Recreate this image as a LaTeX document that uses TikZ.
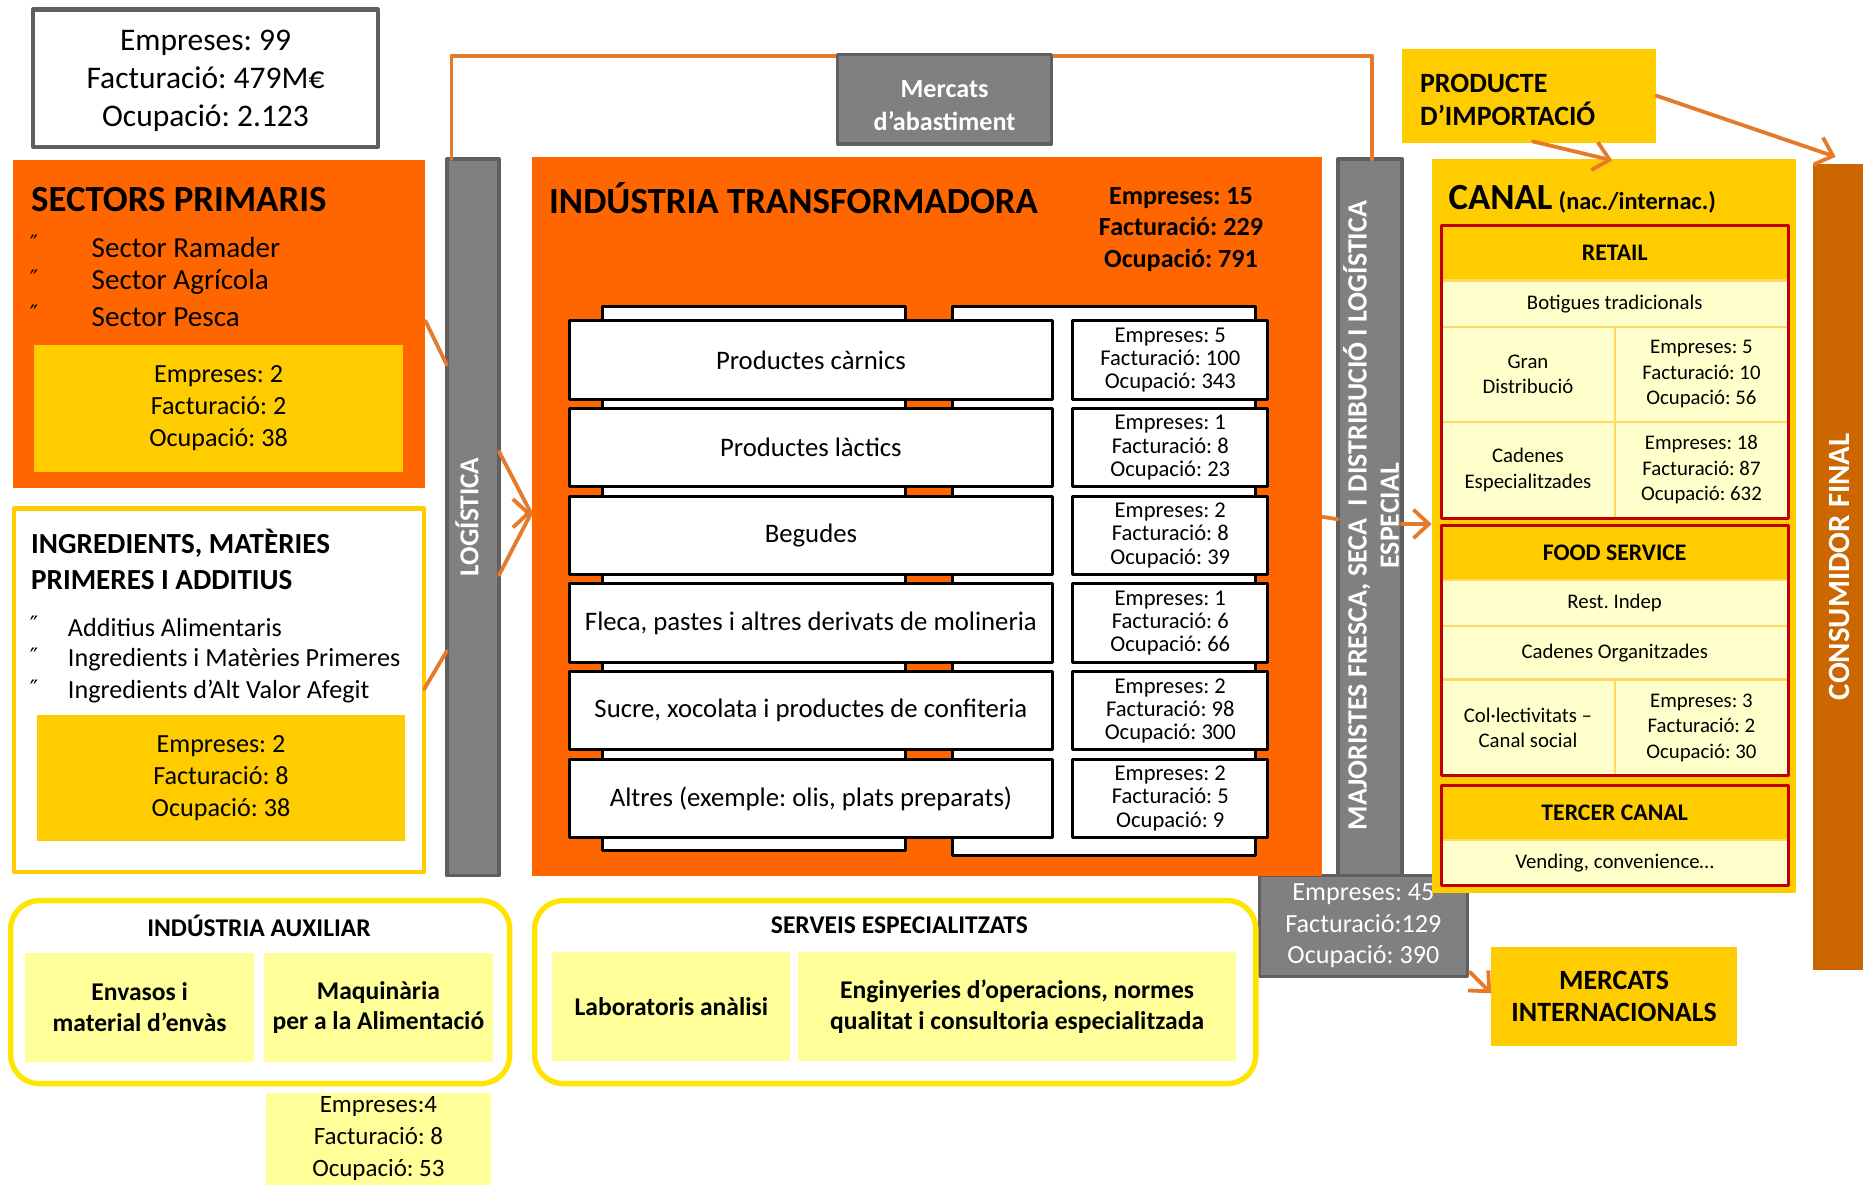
\documentclass[tikz,border=0pt]{standalone}
\usepackage{fontspec}
\setmainfont{Carlito}
\newfontfamily\dejavu{DejaVu Sans}
\usetikzlibrary{arrows.meta,calc}
\definecolor{taronja}{RGB}{255,102,0}
\definecolor{groc}{RGB}{255,204,0}
\definecolor{grocclar}{RGB}{255,255,204}
\definecolor{grocpal}{RGB}{255,255,153}
\definecolor{grocviu}{RGB}{255,228,0}
\definecolor{gris}{RGB}{128,128,128}
\definecolor{grisfosc}{RGB}{95,95,95}
\definecolor{fletxa}{RGB}{228,122,42}
\definecolor{consum}{RGB}{204,102,0}
\definecolor{vermell}{RGB}{192,0,0}
\definecolor{separa}{RGB}{255,217,102}
\newcommand\mida[2]{\fontsize{#1}{#2}\selectfont}
\frenchspacing
\tikzset{
  caixa/.style={anchor=north west,outer sep=0pt},
  barra/.style={caixa,fill=gris,draw=grisfosc,line width=3},
  cel/.style={caixa,fill=grocclar,draw=separa,line width=2,align=center,font=\mida{17.5}{21.5}},
  capcel/.style={caixa,fill=groc,align=center,font=\bfseries\mida{20}{24}},
  marc/.style={caixa,draw=vermell,line width=2.5},
  conn/.style={draw=fletxa,line width=3.2,line cap=round},
  vinyeta/.style={anchor=west,font=\dejavu\mida{19}{22}},
}
\begin{document}
\begin{tikzpicture}[x=1pt,y=-1pt,inner sep=0pt,line join=round,>={Straight Barb[length=13pt,width=24pt]}]
\useasboundingbox (0,0) rectangle (1568,997);
% primers i ingredients
\node[caixa,fill=white,draw=grisfosc,line width=3.5,minimum width=290,minimum height=116] (total) at (28,8) {};
\node[align=center,font=\mida{26.5}{32}] (totaltxt) at (173,68) {Empreses: 99\\Facturació: 479M€\\Ocupació: 2.123};
\node[caixa,fill=taronja,minimum width=347,minimum height=276] (prim) at (11,135) {};
\node[anchor=west,font=\bfseries\mida{31}{37}] (primtit) at (26,168) {SECTORS PRIMARIS};
\foreach \t [count=\i from 0] in {Sector Ramader,Sector Agrícola,Sector Pesca}{
  \node[vinyeta] (primb\i) at (25,205+29.5*\i) {″};
  \node[anchor=west,font=\mida{24.5}{29}] (sect\i) at (77,208+29.5*\i) {\t};
}
\node[caixa,fill=groc,minimum width=310,minimum height=107,font=\mida{22}{27},align=center] (primst) at (29,290) {Empreses: 2\\Facturació: 2\\Ocupació: 38};
\node[caixa,fill=white,draw=groc,line width=3.5,minimum width=345,minimum height=306] (ingr) at (12,428) {};
\node[anchor=west,align=left,font=\bfseries\mida{24.5}{30}] (ingrtit) at (26,471) {INGREDIENTS, MATÈRIES\\PRIMERES I ADDITIUS};
\foreach \t [count=\i from 0] in {Additius Alimentaris,Ingredients i Matèries Primeres,Ingredients d’Alt Valor Afegit}{
  \node[vinyeta] (ingrb\i) at (25,525+27*\i) {″};
  \node[anchor=west,font=\mida{22}{27}] (ingr\i) at (57,528+27*\i) {\t};
}
\node[caixa,fill=groc,minimum width=310,minimum height=106,font=\mida{22}{27},align=center] (ingrst) at (31,602) {Empreses: 2\\Facturació: 8\\Ocupació: 38};
% barres grises
\node[barra,minimum width=44,minimum height=603] (logi) at (376,134) {};
\node[rotate=90,text=white,font=\bfseries\mida{23}{27}] (logitxt) at (393,435) {LOGÍSTICA};
\node[barra,minimum width=54,minimum height=603] (maj) at (1126,134) {};
\node[rotate=90,text=white,align=center,font=\bfseries\mida{23.5}{27}] (majtxt) at (1154,434) {MAJORISTES FRESCA, SECA \ I DISTRIBUCIÓ I LOGÍSTICA\\ESPECIAL};
\draw[conn] ($(logi.north west)+(4,0)$) -- ++(0,-87) -| ($(maj.north west)+(29,0)$);
\node[barra,minimum width=180,minimum height=75] (merc) at (705,46) {};
\node[text=white,align=center,font=\bfseries\mida{22}{28}] (merctxt) at (795,89) {Mercats\\d’abastiment};
\node[barra,minimum width=175,minimum height=85,text=white,align=center,font=\mida{22}{26.5}] (majst) at (1060,737) {Empreses: 45\\Facturació:129\\Ocupació: 390};
% industria transformadora
\node[caixa,fill=taronja,minimum width=665,minimum height=605] (indus) at (448,132) {};
\node[anchor=west,font=\bfseries\mida{31}{37}] (industit) at (462,167) {INDÚSTRIA TRANSFORMADORA};
\node[align=center,font=\bfseries\mida{22}{26.5}] (indusst) at (994,193) {Empreses: 15\\Facturació: 229\\Ocupació: 791};
\node[caixa,fill=white,draw=black,line width=2.5,minimum width=255,minimum height=458] (fonsA) at (507,258) {};
\node[caixa,fill=white,draw=black,line width=2.5,minimum width=255,minimum height=462] (fonsB) at (802,258) {};
\foreach \lbl/\e/\f/\o [count=\i from 0] in {{Productes càrnics}/5/100/343,{Productes làctics}/1/8/23,Begudes/2/8/39,{Fleca, pastes i altres derivats de molineria}/1/6/66,{Sucre, xocolata i productes de confiteria}/2/98/300,{Altres (exemple: olis, plats preparats)}/2/5/9}{
  \pgfmathsetmacro\yy{270+73.8*\i}
  \node[caixa,fill=white,draw=black,line width=2.5,minimum width=407,minimum height=66,font=\mida{22.5}{27}] (fila\i) at (479,\yy) {\lbl};
  \node[caixa,fill=white,draw=black,line width=2.5,minimum width=164,minimum height=66,align=center,font=\mida{19}{19.5}] (xif\i) at (903,\yy) {Empreses: \e\\Facturació: \f\\Ocupació: \o};
}
% canal
\node[caixa,fill=groc,minimum width=214,minimum height=79] (prod) at (1180,41) {};
\node[anchor=west,align=left,font=\bfseries\mida{23.5}{28}] (prodtxt) at (1195,84) {PRODUCTE\\D’IMPORTACIÓ};
\node[caixa,fill=groc,minimum width=307,minimum height=618] (canal) at (1205,134) {};
\node[anchor=west] (canaltit) at (1219,168) {\bfseries\mida{31}{37}CANAL\,{\mida{20.5}{25}(nac./internac.)}};
\node[capcel,minimum width=292,minimum height=46] (retail) at (1213,190) {RETAIL};
\node[cel,minimum width=292,minimum height=39] (botig) at (1213,236) {Botigues tradicionals};
\node[cel,minimum width=146,minimum height=80] (gran) at (1213,275) {Gran\\Distribució};
\node[cel,minimum width=146,minimum height=80] (granst) at (1359,275) {Empreses: 5\\Facturació: 10\\Ocupació: 56};
\node[cel,minimum width=146,minimum height=81] (cadesp) at (1213,355) {Cadenes\\Especialitzades};
\node[cel,minimum width=146,minimum height=81] (cadespst) at (1359,355) {Empreses: 18\\Facturació: 87\\Ocupació: 632};
\node[marc,minimum width=292,minimum height=246] (retailm) at (1213,190) {};
\node[capcel,minimum width=292,minimum height=46] (food) at (1213,442) {FOOD SERVICE};
\node[cel,minimum width=292,minimum height=39] (rest) at (1213,488) {Rest. Indep};
\node[cel,minimum width=292,minimum height=45] (cadorg) at (1213,527) {Cadenes Organitzades};
\node[cel,minimum width=146,minimum height=81] (colect) at (1213,572) {Col·lectivitats –\\Canal social};
\node[cel,minimum width=146,minimum height=81] (colectst) at (1359,572) {Empreses: 3\\Facturació: 2\\Ocupació: 30};
\node[marc,minimum width=292,minimum height=211] (foodm) at (1213,442) {};
\node[capcel,minimum width=292,minimum height=46] (tercer) at (1213,661) {TERCER CANAL};
\node[cel,minimum width=292,minimum height=38] (vend) at (1213,707) {Vending, convenience…};
\node[marc,minimum width=292,minimum height=84] (tercerm) at (1213,661) {};
\node[caixa,fill=consum,minimum width=42,minimum height=678] (cons) at (1526,138) {};
\node[rotate=90,text=white,font=\bfseries\mida{26}{31}] (constxt) at (1548,477) {CONSUMIDOR FINAL};
\node[caixa,fill=groc,minimum width=207,minimum height=83,align=center,font=\bfseries\mida{23.5}{27}] (mercint) at (1255,797) {MERCATS\\INTERNACIONALS};
% auxiliars
\node[caixa,fill=white,draw=grocviu,line width=4.5,rounded corners=24,minimum width=420,minimum height=154] (aux) at (9,758) {};
\node[font=\bfseries\mida{21.5}{26}] (auxtit) at (218,779) {INDÚSTRIA AUXILIAR};
\node[caixa,fill=grocpal,minimum width=193,minimum height=92,align=center,font=\bfseries\mida{21.5}{26}] (envas) at (21,802) {Envasos i\\material d’envàs};
\node[caixa,fill=grocpal,minimum width=193,minimum height=92,align=center,font=\bfseries\mida{21.5}{26}] (maqui) at (222,802) {Maquinària\\per a la Alimentació};
\node[caixa,fill=grocpal,minimum width=189,minimum height=77,align=center,font=\mida{21}{27}] (auxst) at (224,920) {Empreses:4\\Facturació: 8\\Ocupació: 53};
\node[caixa,fill=white,draw=grocviu,line width=4.5,rounded corners=24,minimum width=607,minimum height=154] (serv) at (450,758) {};
\node[font=\bfseries\mida{21.5}{26}] (servtit) at (757,779) {SERVEIS ESPECIALITZATS};
\node[caixa,fill=grocpal,minimum width=200,minimum height=92,align=center,font=\bfseries\mida{21.5}{26}] (labo) at (465,801) {Laboratoris anàlisi};
\node[caixa,fill=grocpal,minimum width=368,minimum height=92,align=center,font=\bfseries\mida{21.5}{26}] (engi) at (672,801) {Enginyeries d’operacions, normes\\qualitat i consultoria especialitzada};
% connectors
\coordinate (puntaL) at ($(indus.north west)+(-1,300)$);
\draw[conn] ($(prim.north east)+(0,135)$) -- ($(logi.north west)+(0,173)$);
\draw[conn] ($(ingr.north east)+(0,152)$) -- ($(logi.north west)+(0,414)$);
\draw[conn] ($(logi.north east)+(0,246)$) -- (puntaL);
\draw[conn] ($(logi.north east)+(0,350)$) -- (puntaL);
\draw[conn,->] ($(puntaL)+(-4,0)$) -- (puntaL);
\draw[conn] ($(indus.north east)+(0,303)$) -- ($(maj.north west)+(0,303)$);
\draw[conn,->] ($(maj.north east)+(0,307)$) -- ($(canal.north west)+(0,307)$);
\draw[conn,->] ($(majst.south east)+(2,-4)$) -- ($(mercint.north west)+(0,39)$);
\draw[conn,->] ($(prod.south)+(3,-1)$) -- ($(canal.north west)+(152,1)$);
\draw[conn,->] (prod.east) -- ($(cons.north)+(-2,-6)$);
\end{tikzpicture}
\end{document}
